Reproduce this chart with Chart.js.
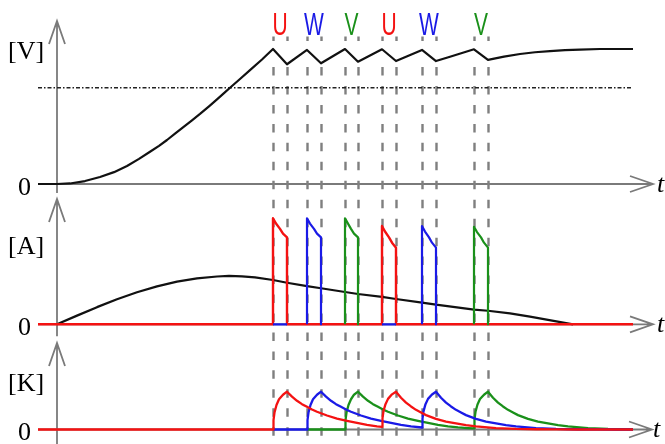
<!DOCTYPE html>
<html>
<head>
<meta charset="utf-8">
<script src="https://cdn.jsdelivr.net/npm/chart.js@4/dist/chart.umd.min.js"></script>
<style>
  html, body { margin: 0; padding: 0; background: #ffffff; overflow: hidden; }
  #wrap { width: 665px; height: 444px; position: relative; }
</style>
</head>
<body>
<div id="wrap"><canvas id="c" width="665" height="444"></canvas></div>
<script>
// ---- commutation windows (time units) and the phase fired in each ----
const commStart = [21.6, 25.0, 28.8, 32.5, 36.5, 41.7];
const commEnd   = [23.0, 26.4, 30.1, 33.9, 37.9, 43.1];
const commPhase = ['U', 'W', 'V', 'U', 'W', 'V'];

// ---- panel labels ----
const unitLabels = ['[V]', '[A]', '[K]'];
const zeroLabel = '0';
const timeLabel = 't';

// ---- voltage [V], percent of final level ----
const voltage = [
  [-1.9, 0], [0, 0], [1.3, 0.4], [2.8, 2.2], [4.3, 5.2], [5.7, 8.8], [7.0, 13.3],
  [8.2, 18.6], [9.3, 23.9], [10.2, 28.3], [11.0, 32.6], [11.8, 37.3], [12.6, 42.0],
  [13.5, 47.2], [14.3, 51.9], [15.2, 57.5], [16.0, 62.7], [16.7, 67.3], [17.3, 71.3],
  [18.3, 77.8], [19.3, 84.4], [20.5, 92.2], [21.6, 100],
  [23.0, 88.7], [25.0, 99.3], [26.4, 89.4], [28.8, 100], [30.1, 90.6],
  [32.5, 99.8], [33.9, 91.1], [36.5, 99.3], [37.9, 91.1], [39.3, 94.3],
  [41.7, 99.8], [43.1, 91.9], [44.7, 94.4], [46.3, 96.3], [47.8, 97.6],
  [49.3, 98.5], [50.8, 99.2], [52.3, 99.6], [54.3, 100], [57.6, 100]
];
const thresholdLevel = 71.3;
const thresholdSpan = [-1.9, 57.6];

// ---- supply current [A] ----
const supplyCurrent = [
  [0, 0], [2.0, 8.2], [4.0, 16.2], [6.0, 23.6], [8.0, 30.2], [10.0, 35.8],
  [12.0, 40.2], [14.0, 43.3], [16.0, 45.1], [17.2, 45.6], [18.5, 45.3],
  [19.8, 44.2], [21.6, 41.8], [23.0, 39.2],
  [25.0, 36.1], [26.4, 34.0], [28.8, 30.5], [30.1, 28.6], [32.5, 25.8],
  [33.9, 23.9], [36.5, 20.4], [37.9, 18.5], [41.7, 13.8], [43.1, 12.8],
  [45.3, 10.4], [47.3, 7.2], [51.6, 0]
];

// ---- phase currents [A] (null = phase not drawn) ----
const currentU = [
  [-1.9, 0], [21.6, 0], [21.6, 100], [21.9, 95], [22.3, 90], [22.6, 85.5], [23.0, 82], [23.0, 0],
  [32.5, 0], [32.5, 92.7], [32.8, 87.5], [33.2, 82], [33.5, 77], [33.9, 72.3], [33.9, 0], [57.6, 0]
];
const currentW = [
  [21.6, 0], [23.0, 0], [23.0, null],
  [25.0, 0], [25.0, 100], [25.3, 95], [25.7, 90], [26.0, 85.5], [26.4, 82], [26.4, 0], [26.4, null],
  [32.5, 0], [33.9, 0], [33.9, null],
  [36.5, 0], [36.5, 92.7], [36.8, 87.5], [37.2, 82], [37.5, 77], [37.9, 72.3], [37.9, 0]
];
const currentV = [
  [28.8, 0], [28.8, 100], [29.1, 95], [29.4, 90], [29.7, 85.5], [30.1, 82], [30.1, 0], [30.1, null],
  [41.7, 0], [41.7, 92], [42.0, 87], [42.4, 82], [42.7, 77], [43.1, 72.3], [43.1, 0]
];

// ---- winding temperature rise [K] ----
const tempU = [
  [-1.9, 0], [21.6, 0], [21.65, 25], [21.75, 45], [21.95, 65], [22.2, 80], [22.6, 92], [23.0, 100],
  [23.5, 87], [24.0, 76], [24.5, 67], [25.0, 60], [25.5, 53], [26.0, 47], [27.0, 37], [28.0, 29],
  [29.0, 23], [30.0, 17.5], [31.0, 12.5], [32.0, 8.5], [32.5, 7],
  [32.55, 30], [32.65, 49], [32.85, 67], [33.1, 81], [33.5, 93], [33.9, 100],
  [34.4, 84], [34.9, 71], [35.4, 61], [35.9, 52], [36.4, 45], [36.9, 38], [37.9, 28],
  [38.9, 21], [39.9, 16], [40.9, 11.5], [41.9, 8], [43.9, 3.7], [45.9, 1.5], [47.9, 0.6],
  [49.9, 0.2], [52.0, 0], [57.6, 0]
];
const tempW = [
  [21.6, 0], [25.0, 0], [25.05, 25], [25.15, 45], [25.35, 65], [25.6, 80], [26.0, 92], [26.4, 100],
  [26.9, 87], [27.4, 76], [27.9, 67], [28.4, 60], [28.9, 53], [29.4, 47], [30.4, 37], [31.4, 29],
  [32.4, 23], [33.4, 17.5], [34.4, 12.5], [35.4, 8.5], [36.5, 5.3],
  [36.55, 29], [36.65, 48], [36.85, 67], [37.1, 81], [37.5, 92.5], [37.9, 100],
  [38.4, 84], [38.9, 71], [39.4, 61], [39.9, 52], [40.4, 45], [40.9, 38], [41.9, 28],
  [42.9, 21], [43.9, 16], [44.9, 11.5], [45.9, 8], [47.9, 3.7], [49.9, 1.5], [51.9, 0.6],
  [53.9, 0.2], [55.9, 0], [57.6, 0]
];
const tempV = [
  [25.0, 0], [28.8, 0], [28.85, 25], [28.95, 45], [29.15, 65], [29.4, 80], [29.7, 92], [30.1, 100],
  [30.6, 87], [31.1, 76], [31.6, 67], [32.1, 60], [32.6, 53], [33.1, 47], [34.1, 37], [35.1, 29],
  [36.1, 23], [37.1, 17.5], [38.1, 12.5], [39.1, 8.5], [40.1, 5.5], [41.1, 3.8], [41.7, 3],
  [41.75, 27], [41.85, 47], [42.05, 66], [42.3, 80.5], [42.7, 92], [43.1, 100],
  [43.6, 84], [44.1, 71], [44.6, 61], [45.1, 52], [45.6, 45], [46.1, 38], [47.1, 28],
  [48.1, 21], [49.1, 16], [50.1, 11.5], [51.1, 8], [53.1, 3.7], [55.1, 1.5], [57.6, 0.4]
];

// ---- styling ----
const phaseColor = { U: '#f41212', W: '#1a1ae6', V: '#1a901a' };
const axisGray = '#7a7a7a';
const guideGray = '#7f7f7f';
const serif = '"Liberation Serif", "DejaVu Serif", serif';

const pts = arr => arr.map(([x, y]) => ({ x, y }));

function line(data, color, axis, width, extra) {
  return Object.assign({
    data: pts(data), yAxisID: axis, borderColor: color, borderWidth: width,
    pointRadius: 0, tension: 0, fill: false, spanGaps: false,
    borderJoinStyle: 'round', borderCapStyle: 'butt'
  }, extra || {});
}

// axes with open arrow heads, guide lines and text
const diagramPlugin = {
  id: 'diagram',
  beforeDatasetsDraw(chart) {
    const c = chart.ctx;
    const xs = chart.scales.x;
    const x0 = xs.getPixelForValue(0);
    const xStart = xs.getPixelForValue(-1.9);
    const panels = [
      { s: chart.scales.yV, tip: 21, tail: 9, tEnd: 59.6 },
      { s: chart.scales.yA, tip: 5, tail: 12, tEnd: 59.6 },
      { s: chart.scales.yK, tip: 5, tail: 20, tEnd: 59.5 }
    ];
    c.save();
    c.strokeStyle = axisGray;
    c.lineWidth = 1.8;
    c.lineCap = 'butt';
    panels.forEach(p => {
      const y0 = p.s.getPixelForValue(0);
      const tipY = p.s.top + p.tip;
      const xEnd = xs.getPixelForValue(p.tEnd);
      c.beginPath();
      c.moveTo(x0, Math.min(y0 + p.tail, chart.height));
      c.lineTo(x0, tipY);
      c.moveTo(x0 - 8, tipY + 23);
      c.lineTo(x0, tipY);
      c.lineTo(x0 + 8, tipY + 23);
      c.moveTo(xStart, y0);
      c.lineTo(xEnd, y0);
      c.moveTo(xEnd - 23, y0 - 8);
      c.lineTo(xEnd, y0);
      c.lineTo(xEnd - 23, y0 + 8);
      c.stroke();
    });
    // dashed commutation guides
    c.strokeStyle = guideGray;
    c.lineWidth = 2.4;
    const times = commStart.concat(commEnd);
    times.forEach(t => {
      const x = Math.round(xs.getPixelForValue(t)) + 0.5;
      c.setLineDash([]);
      c.beginPath();
      c.moveTo(x, 36.5);
      c.lineTo(x, 41);
      c.stroke();
      c.setLineDash([8.5, 10.46]);
      c.beginPath();
      c.moveTo(x, 67);
      c.lineTo(x, chart.height);
      c.stroke();
    });
    c.restore();
  },
  afterDatasetsDraw(chart) {
    const c = chart.ctx;
    const xs = chart.scales.x;
    const scales = [chart.scales.yV, chart.scales.yA, chart.scales.yK];
    const unitBase = [59, 253.5, 391];
    c.save();
    c.fillStyle = '#000';
    c.font = '26px ' + serif;
    c.textBaseline = 'alphabetic';
    c.textAlign = 'left';
    unitLabels.forEach((lab, i) => c.fillText(lab, 8, unitBase[i]));
    c.textAlign = 'center';
    scales.forEach(s => {
      const y0 = s.getPixelForValue(0);
      c.fillText(zeroLabel, 24.5, y0 + 10.5);
    });
    c.font = 'italic 26px ' + serif;
    c.textAlign = 'left';
    c.textBaseline = 'middle';
    const tX = [657, 657, 653];
    scales.forEach((s, i) => c.fillText(timeLabel, tX[i], s.getPixelForValue(0) + 1));
    // phase letters above each commutation window
    c.font = '21px "Liberation Sans", Arial, sans-serif';
    c.textAlign = 'center';
    c.textBaseline = 'alphabetic';
    commPhase.forEach((ph, i) => {
      const cx = (xs.getPixelForValue(commStart[i]) + xs.getPixelForValue(commEnd[i])) / 2;
      c.save();
      c.translate(cx, 35);
      c.scale(1, 1.45);
      c.fillStyle = phaseColor[ph];
      c.fillText(ph, 0, 0);
      c.restore();
    });
    c.restore();
  }
};

new Chart(document.getElementById('c'), {
  type: 'line',
  data: {
    datasets: [
      // voltage panel
      line(voltage, '#111111', 'yV', 2.2),
      line([[thresholdSpan[0], thresholdLevel], [thresholdSpan[1], thresholdLevel]], '#222222', 'yV', 1.6,
        { borderDash: [4, 2, 1.5, 2] }),
      // current panel
      line(currentW, phaseColor.W, 'yA', 2.2),
      line(currentV, phaseColor.V, 'yA', 2.2),
      line(currentU, phaseColor.U, 'yA', 2.4),
      line(supplyCurrent, '#111111', 'yA', 2.2),
      // temperature panel
      line(tempU, phaseColor.U, 'yK', 2.3),
      line(tempW, phaseColor.W, 'yK', 2.3),
      line(tempV, phaseColor.V, 'yK', 2.3)
    ]
  },
  options: {
    responsive: false,
    animation: false,
    devicePixelRatio: 1,
    layout: { padding: 0 },
    plugins: { legend: { display: false }, tooltip: { enabled: false }, title: { display: false } },
    scales: {
      x: { type: 'linear', display: false, min: -5.7, max: 60.8 },
      yV: { type: 'linear', display: false, position: 'left', stack: 'panels', stackWeight: 194, weight: 3, min: -7.4, max: 136.3 },
      yA: { type: 'linear', display: false, position: 'left', stack: 'panels', stackWeight: 144, weight: 2, min: -12.9, max: 122.9 },
      yK: { type: 'linear', display: false, position: 'left', stack: 'panels', stackWeight: 106, weight: 1, min: -38.4, max: 242.1 }
    }
  },
  plugins: [diagramPlugin]
});
</script>
</body>
</html>
